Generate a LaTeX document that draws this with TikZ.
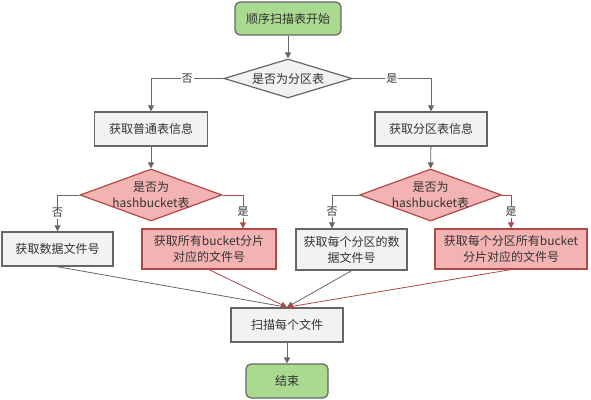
\documentclass[tikz,border=0pt]{standalone}
\usepackage{fontspec}
\setmainfont{Noto Sans CJK SC}
\usetikzlibrary{arrows.meta,shapes.geometric}

\definecolor{startgreen}{HTML}{A9DA8F}
\definecolor{boxgray}{HTML}{F2F2F2}
\definecolor{linegray}{HTML}{666666}
\definecolor{txtgray}{HTML}{333333}
\definecolor{redfill}{HTML}{F3B3B3}
\definecolor{redline}{HTML}{B04848}

\tikzset{
  every node/.style={font=\fontsize{12}{16}\selectfont, text=txtgray, align=center},
  terminal/.style={draw=linegray, line width=1.2pt, rounded corners=5pt, fill=startgreen},
  process/.style={draw=linegray, line width=1.5pt, fill=boxgray, inner sep=2pt},
  hotprocess/.style={draw=redline, line width=1.2pt, fill=redfill, inner sep=2pt},
  decision/.style={diamond, draw=linegray, line width=1.2pt, fill=boxgray, inner sep=0pt},
  hotdecision/.style={decision, draw=redline, fill=redfill},
  flow/.style={draw=linegray, line width=0.8pt, -{Triangle[length=6pt,width=6pt]}},
  hotflow/.style={flow, draw=redline},
  yesno/.style={fill=white, inner sep=1pt, font=\fontsize{11}{13}\selectfont}
}

\begin{document}
\begin{tikzpicture}[x=1pt, y=-1pt]
\useasboundingbox (0,0) rectangle (591,399);

% 顶部
\node[terminal, minimum width=106pt, minimum height=33pt] (start) at (288,18.5) {顺序扫描表开始};
\node[decision, minimum width=128pt, minimum height=39pt, label={center:是否为分区表}] (isPart) at (288,78.5) {};
\node[process, minimum width=113pt, minimum height=34pt] (plainInfo) at (151,129) {获取普通表信息};
\node[process, minimum width=112pt, minimum height=34pt] (partInfo) at (431,129) {获取分区表信息};

% 第二层判断
\node[hotdecision, minimum width=142pt, minimum height=52pt, label={[align=center]center:{是否为\\hashbucket表}}] (hbPlain) at (151,195) {};
\node[hotdecision, minimum width=142pt, minimum height=52pt, label={[align=center]center:{是否为\\hashbucket表}}] (hbPart) at (430.5,195) {};

% 取文件号
\node[process, minimum width=111pt, minimum height=34pt] (plainFiles) at (57.5,249) {获取数据文件号};
\node[hotprocess, minimum width=134pt, minimum height=40pt] (plainBucket) at (209,249) {获取所有bucket分片\\对应的文件号};
\node[process, minimum width=111pt, minimum height=41pt] (partFiles) at (351.5,249.5) {获取每个分区的数\\据文件号};
\node[hotprocess, minimum width=152pt, minimum height=40pt] (partBucket) at (511,249) {获取每个分区所有bucket\\分片对应的文件号};

% 底部
\node[process, minimum width=112pt, minimum height=34pt] (scan) at (287,325) {扫描每个文件};
\node[terminal, minimum width=82pt, minimum height=34pt] (finish) at (287,381) {结束};

\draw[flow] (start) -- (isPart);
\draw[flow] (isPart.west) -| node[yesno, pos=0.25] {否} (plainInfo.north);
\draw[flow] (isPart.east) -| node[yesno, pos=0.25] {是} (partInfo.north);
\draw[flow] (plainInfo) -- (hbPlain);
\draw[flow] (partInfo) -- (hbPart);
\draw[flow] (hbPlain.west) -| node[yesno, pos=0.75] {否} (plainFiles.north);
\draw[hotflow] (hbPlain.east) -| node[yesno, pos=0.75] {是} ([xshift=34pt]plainBucket.north);
\draw[flow] (hbPart.west) -| node[yesno, pos=0.75] {否} ([xshift=-19.5pt]partFiles.north);
\draw[hotflow] (hbPart.east) -| node[yesno, pos=0.75] {是} (partBucket.north);
\draw[flow] (plainFiles.south) -- (scan.north);
\draw[hotflow] (plainBucket.south) -- (scan.north);
\draw[flow] (partFiles.south) -- (scan.north);
\draw[hotflow] (partBucket.south) -- (scan.north);
\draw[flow] (scan) -- (finish);
\end{tikzpicture}
\end{document}
